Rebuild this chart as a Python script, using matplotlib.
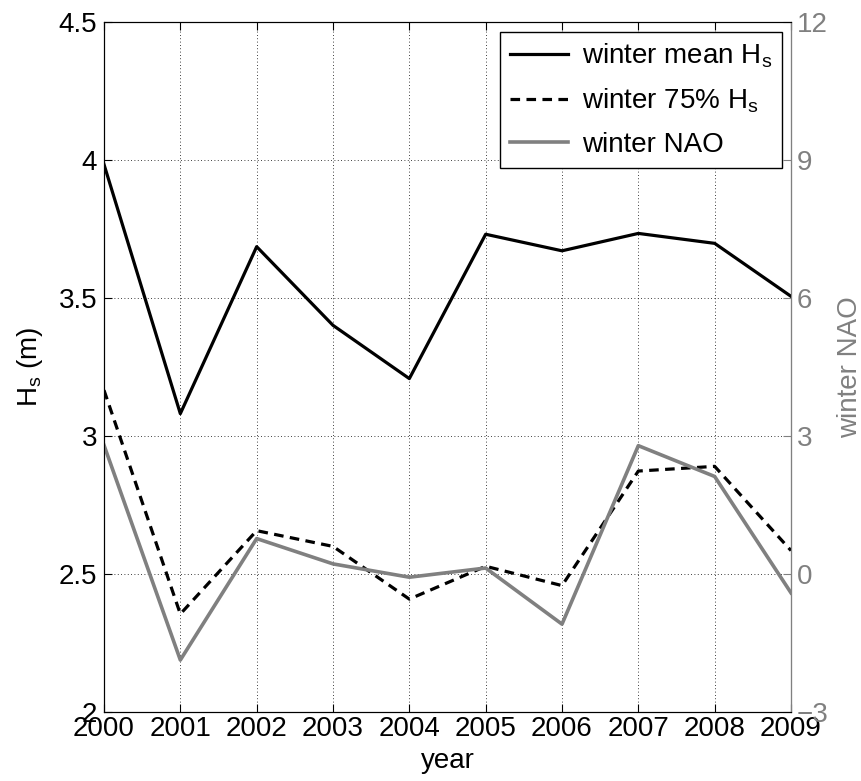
import numpy as np
import matplotlib
matplotlib.use('Agg')
import matplotlib.pyplot as plt

plt.rcParams['font.family'] = ['Liberation Sans', 'DejaVu Sans']
plt.rcParams['mathtext.fontset'] = 'custom'
plt.rcParams['mathtext.rm'] = 'Liberation Sans'
plt.rcParams['mathtext.it'] = 'Liberation Sans'

years = [2000, 2001, 2002, 2003, 2004, 2005, 2006, 2007, 2008, 2009]
mean_hs = [3.984, 3.081, 3.686, 3.401, 3.208, 3.731, 3.671, 3.734, 3.698, 3.506]
hs75 = [3.166, 2.355, 2.657, 2.600, 2.409, 2.528, 2.458, 2.873, 2.890, 2.585]
nao = [2.80, -1.87, 0.77, 0.22, -0.07, 0.13, -1.09, 2.79, 2.12, -0.41]

hs_ticks = [2, 2.5, 3, 3.5, 4, 4.5]
hs_labels = ['2', '2.5', '3', '3.5', '4', '4.5']
nao_ticks = [-3, 0, 3, 6, 9, 12]

gray = '#808080'
fs = 20

fig = plt.figure(figsize=(8.61, 7.81), dpi=100)
ax = fig.add_axes([104 / 861, 1 - 712 / 781, 687 / 861, 690 / 781])
ax2 = ax.twinx()

l1, = ax.plot(years, mean_hs, color='black', lw=2.3, label='winter mean H$_\\mathrm{s}$')
l2, = ax.plot(years, hs75, color='black', lw=2.3, ls=(0, (3, 2)), label='winter 75% H$_\\mathrm{s}$')
l3, = ax2.plot(years, nao, color=gray, lw=2.6, label='winter NAO')

ax.set_xlim(2000, 2009)
ax.set_ylim(2, 4.5)
ax2.set_ylim(-3, 12)
ax.set_xticks(years)
ax.set_yticks(hs_ticks)
ax.set_yticklabels(hs_labels)
ax2.set_yticks(nao_ticks)

ax.grid(True, color='black', ls=(0, (1, 3)), lw=0.6)
ax.tick_params(axis='both', direction='in', labelsize=fs, length=6, top=True, pad=3)
ax.tick_params(axis='y', right=False, pad=5)
ax2.tick_params(axis='y', direction='in', labelsize=fs, colors=gray, length=6, pad=4)

for s in ['left', 'bottom', 'top']:
    ax.spines[s].set_color('black')
ax2.spines['right'].set_color(gray)

ax.set_xlabel('year', fontsize=fs, labelpad=4)
ax.set_ylabel('H$_\\mathrm{s}$ (m)', fontsize=fs, labelpad=10)
ax2.set_ylabel('winter NAO', fontsize=fs, color=gray, labelpad=6)

leg = ax2.legend(handles=[l1, l2, l3], loc='upper right',
                 bbox_to_anchor=(782 / 861, 1 - 32 / 781), bbox_transform=fig.transFigure,
                 borderaxespad=0, fontsize=fs, fancybox=False, framealpha=1,
                 edgecolor='black', handlelength=2.1, handletextpad=0.5,
                 labelspacing=0.6, borderpad=0.35)
leg.get_frame().set_linewidth(1.0)

fig.savefig('out.png', dpi=100)
plt.close(fig)
